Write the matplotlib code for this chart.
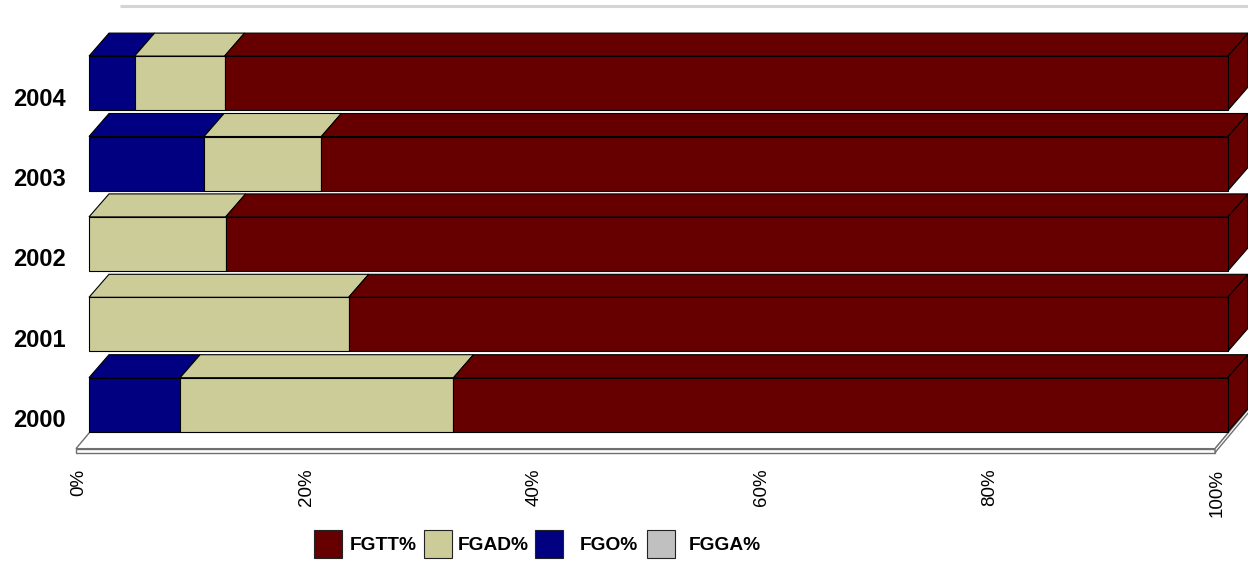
import matplotlib.pyplot as plt
from matplotlib.patches import Polygon, Rectangle

plt.rcParams['font.family'] = ['Liberation Sans', 'DejaVu Sans']

years = ['2000', '2001', '2002', '2003', '2004']
fgo = [8.0, 0.0, 0.0, 10.1, 4.0]
fgad = [24.0, 22.8, 12.0, 10.3, 7.9]
fgga = [0.0, 0.0, 0.0, 0.0, 0.0]
fgtt = [68.0, 77.2, 88.0, 79.6, 88.1]
ticks = [0, 20, 40, 60, 80, 100]

# stacking order left -> right
series = [('FGO%', fgo, '#000080'),
          ('FGAD%', fgad, '#CCCC99'),
          ('FGGA%', fgga, '#C0C0C0'),
          ('FGTT%', fgtt, '#660000')]
legend_order = ['FGTT%', 'FGAD%', 'FGO%', 'FGGA%']
colors = {name: c for name, _, c in series}

W, H = 1248, 562
fig = plt.figure(figsize=(W / 100, H / 100), dpi=100)
ax = fig.add_axes([0, 0, 1, 1])
ax.axis('off')

# pixel scale of the plot (front face of bars runs 89..1228 px)
x0, sx = 89, 11.39
y0, sy = 157.3, 80.4
ax.set_xlim(-x0 / sx, (W - x0) / sx)
ax.set_ylim(-y0 / sy, (H - y0) / sy)

h = 54 / sy          # bar thickness
dx, dy = 20 / sx, 23 / sy   # 3d depth offset
kf, kb = -0.65, 1.55        # floor front / back, in depth units

# floor slab
yb = -h / 2
t = 4 / sy
yf = yb + kf * dy - 2 / sy
ybk = yb + kb * dy
floor_kw = dict(facecolor='white', edgecolor='#707070', lw=1, zorder=1)
ax.add_patch(Polygon([(kf * dx, yf), (100 + kf * dx, yf),
                      (100 + kb * dx, ybk), (kb * dx, ybk)], **floor_kw))
ax.add_patch(Polygon([(kf * dx, yf - t), (100 + kf * dx, yf - t),
                      (100 + kf * dx, yf), (kf * dx, yf)], **floor_kw))
ax.add_patch(Polygon([(100 + kf * dx, yf - t), (100 + kb * dx, ybk - t),
                      (100 + kb * dx, ybk), (100 + kf * dx, yf)], **floor_kw))

# back wall top edge
ytop = (H - 6 - y0) / sy
ax.plot([kb * dx, 110], [ytop, ytop], color='#D4D4D4', lw=2.2, zorder=1,
        solid_capstyle='butt')

# bars
for i in range(len(years)):
    left = 0.0
    for name, vals, c in series:
        v = vals[i]
        if v <= 0:
            continue
        ax.barh(i, v, left=left, height=h, color=c, edgecolor='black',
                lw=0.8, zorder=3)
        top = i + h / 2
        ax.add_patch(Polygon([(left, top), (left + v, top),
                              (left + v + dx, top + dy), (left + dx, top + dy)],
                             facecolor=c, edgecolor='black', lw=0.8, zorder=2))
        left += v
    bot = i - h / 2
    top = i + h / 2
    ax.add_patch(Polygon([(left, bot), (left, top), (left + dx, top + dy),
                          (left + dx, bot + dy)],
                         facecolor=colors['FGTT%'], edgecolor='black', lw=0.8,
                         zorder=2))
    ax.text(-23 / sx, i - h / 2 + 11 / sy, years[i], ha='right', va='center',
            fontsize=17, fontweight='bold')

# x tick labels
for p in ticks:
    ax.text(p + kf * dx + 2.5 / sx, yf - 20 / sy, f'{p}%', rotation=90,
            ha='center', va='top', fontsize=13.5)

# legend
leg_pos = {'FGTT%': (314, 350), 'FGAD%': (424, 458),
           'FGO%': (535, 580), 'FGGA%': (647, 689)}
for name in legend_order:
    bx, tx = leg_pos[name]
    fig.add_artist(Rectangle((bx / W, 1 - 558 / H), 28 / W, 28 / H,
                             transform=fig.transFigure, facecolor=colors[name],
                             edgecolor='#222222', lw=0.8))
    fig.text(tx / W, 1 - 545 / H, name, ha='left', va='center',
             fontsize=13.8, fontweight='bold')

fig.savefig('out.png', dpi=100)
